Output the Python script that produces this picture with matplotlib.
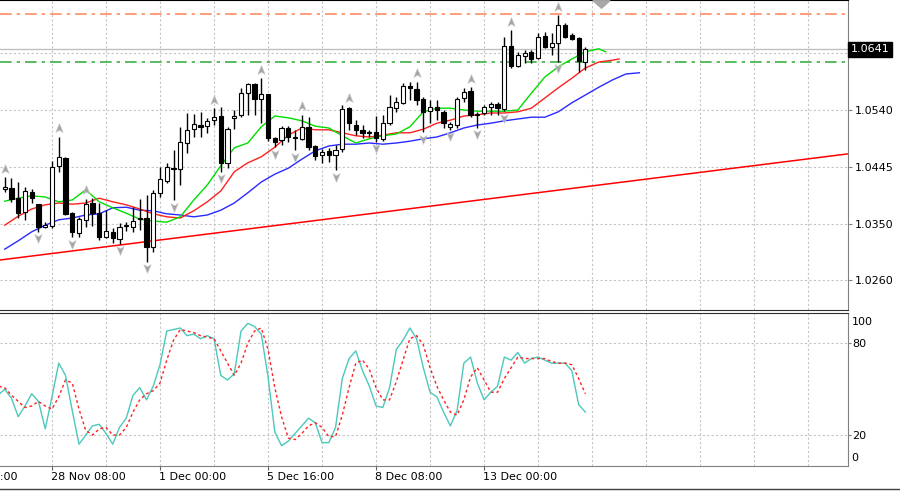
import matplotlib
matplotlib.use('Agg')
import matplotlib.pyplot as plt
import matplotlib.transforms as mtrans
from matplotlib.path import Path
from matplotlib.lines import Line2D

# H4 candles, bar 0 = first visible bar on the left
opens = [1.0408, 1.0410, 1.0393, 1.0370, 1.0403, 1.0383, 1.0345, 1.0347, 1.0447, 1.0460,
         1.0368, 1.0335, 1.0357, 1.0385, 1.0368, 1.0328, 1.0337, 1.0325, 1.0347, 1.0345,
         1.0360, 1.0360, 1.0312, 1.0402, 1.0422, 1.0443, 1.0442, 1.0485, 1.0508, 1.0515,
         1.0513, 1.0523, 1.0530, 1.0452, 1.0527, 1.0532, 1.0568, 1.0583, 1.0558, 1.0567,
         1.0493, 1.0490, 1.0510, 1.0493, 1.0492, 1.0512, 1.0480, 1.0465, 1.0472, 1.0465,
         1.0475, 1.0543, 1.0515, 1.0507, 1.0503, 1.0503, 1.0492, 1.0518, 1.0543, 1.0552,
         1.0580, 1.0575, 1.0558, 1.0538, 1.0545, 1.0537, 1.0512, 1.0515, 1.0560, 1.0572,
         1.0533, 1.0535, 1.0545, 1.0550, 1.0542, 1.0647, 1.0613, 1.0630, 1.0637, 1.0627,
         1.0663, 1.0645, 1.0652, 1.0682, 1.0665, 1.0660, 1.0620]
highs = [1.0428, 1.0427, 1.0420, 1.0412, 1.0408, 1.0384, 1.0353, 1.0455, 1.0495, 1.0461,
         1.0370, 1.0362, 1.0392, 1.0393, 1.0385, 1.0373, 1.0343, 1.0352, 1.0353, 1.0378,
         1.0392, 1.0398, 1.0407, 1.0445, 1.0452, 1.0473, 1.0512, 1.0535, 1.0533, 1.0537,
         1.0527, 1.0543, 1.0545, 1.0512, 1.0540, 1.0577, 1.0585, 1.0585, 1.0593, 1.0567,
         1.0495, 1.0513, 1.0513, 1.0507, 1.0532, 1.0528, 1.0482, 1.0475, 1.0477, 1.0482,
         1.0548, 1.0545, 1.0523, 1.0515, 1.0507, 1.0530, 1.0532, 1.0565, 1.0562, 1.0585,
         1.0587, 1.0587, 1.0562, 1.0557, 1.0557, 1.0540, 1.0520, 1.0562, 1.0577, 1.0578,
         1.0537, 1.0548, 1.0553, 1.0553, 1.0662, 1.0673, 1.0637, 1.0640, 1.0640, 1.0668,
         1.0670, 1.0668, 1.0698, 1.0685, 1.0668, 1.0662, 1.0645]
lows = [1.0403, 1.0387, 1.0360, 1.0357, 1.0385, 1.0337, 1.0343, 1.0343, 1.0437, 1.0365,
        1.0328, 1.0328, 1.0345, 1.0347, 1.0323, 1.0327, 1.0318, 1.0317, 1.0338, 1.0337,
        1.0340, 1.0287, 1.0303, 1.0395, 1.0418, 1.0390, 1.0415, 1.0468, 1.0495, 1.0495,
        1.0502, 1.0515, 1.0437, 1.0443, 1.0508, 1.0528, 1.0532, 1.0532, 1.0518, 1.0488,
        1.0478, 1.0482, 1.0487, 1.0473, 1.0490, 1.0473, 1.0457, 1.0452, 1.0453, 1.0440,
        1.0470, 1.0507, 1.0498, 1.0493, 1.0495, 1.0487, 1.0488, 1.0515, 1.0537, 1.0550,
        1.0557, 1.0548, 1.0503, 1.0518, 1.0523, 1.0510, 1.0507, 1.0510, 1.0553, 1.0528,
        1.0510, 1.0532, 1.0532, 1.0532, 1.0538, 1.0610, 1.0612, 1.0618, 1.0618, 1.0625,
        1.0643, 1.0632, 1.0620, 1.0660, 1.0657, 1.0603, 1.0607]
closes = [1.0412, 1.0392, 1.0368, 1.0405, 1.0393, 1.0345, 1.0348, 1.0445, 1.0462, 1.0367,
          1.0337, 1.0358, 1.0383, 1.0368, 1.0328, 1.0338, 1.0327, 1.0345, 1.0348, 1.0355,
          1.0358, 1.0312, 1.0402, 1.0425, 1.0445, 1.0442, 1.0487, 1.0507, 1.0517, 1.0512,
          1.0522, 1.0528, 1.0452, 1.0508, 1.0530, 1.0568, 1.0583, 1.0558, 1.0567, 1.0493,
          1.0487, 1.0510, 1.0495, 1.0495, 1.0512, 1.0478, 1.0463, 1.0470, 1.0465, 1.0473,
          1.0542, 1.0518, 1.0507, 1.0502, 1.0502, 1.0493, 1.0518, 1.0545, 1.0553, 1.0580,
          1.0577, 1.0557, 1.0537, 1.0545, 1.0540, 1.0518, 1.0517, 1.0558, 1.0570, 1.0532,
          1.0532, 1.0545, 1.0550, 1.0543, 1.0647, 1.0613, 1.0632, 1.0635, 1.0625, 1.0662,
          1.0645, 1.0652, 1.0682, 1.0662, 1.0658, 1.0622, 1.0641]

# Bill Williams fractals (bar numbers)
fractal_up = [0, 8, 12, 31, 38, 44, 51, 61, 69, 75, 82]
fractal_down = [5, 10, 17, 21, 25, 32, 40, 43, 49, 55, 62, 66, 70, 74, 82]

# Alligator lines, read every 2 bars (already shifted forward)
lips_bars = list(range(0, 89, 2)) + [89]
lips = [1.0388, 1.0393, 1.0397, 1.0395, 1.0387, 1.0390, 1.0407, 1.0387, 1.0377, 1.0368,
        1.0358, 1.0355, 1.0353, 1.0362, 1.0390, 1.0415, 1.0447, 1.0477, 1.0485, 1.0512,
        1.0530, 1.0527, 1.0522, 1.0513, 1.0510, 1.0497, 1.0485, 1.0492, 1.0497, 1.0500,
        1.0512, 1.0537, 1.0543, 1.0543, 1.0540, 1.0538, 1.0538, 1.0538, 1.0540, 1.0568,
        1.0595, 1.0612, 1.0625, 1.0637, 1.0642, 1.0637]
teeth_bars = list(range(0, 91, 2)) + [91]
teeth = [1.0348, 1.0363, 1.0375, 1.0382, 1.0385, 1.0383, 1.0385, 1.0393, 1.0387, 1.0382,
         1.0375, 1.0367, 1.0362, 1.0360, 1.0372, 1.0387, 1.0405, 1.0437, 1.0452, 1.0462,
         1.0478, 1.0498, 1.0510, 1.0507, 1.0507, 1.0502, 1.0497, 1.0495, 1.0498, 1.0502,
         1.0502, 1.0508, 1.0518, 1.0523, 1.0530, 1.0532, 1.0535, 1.0535, 1.0537, 1.0543,
         1.0560, 1.0577, 1.0593, 1.0610, 1.0620, 1.0623, 1.0625]
jaw_bars = list(range(0, 95, 2))
jaw = [1.0308, 1.0322, 1.0337, 1.0348, 1.0357, 1.0360, 1.0365, 1.0367, 1.0377, 1.0378,
       1.0373, 1.0372, 1.0367, 1.0365, 1.0362, 1.0365, 1.0373, 1.0385, 1.0402, 1.0420,
       1.0433, 1.0443, 1.0458, 1.0472, 1.0480, 1.0483, 1.0483, 1.0485, 1.0483, 1.0485,
       1.0488, 1.0492, 1.0495, 1.0502, 1.0510, 1.0515, 1.0518, 1.0522, 1.0525, 1.0528,
       1.0528, 1.0537, 1.0552, 1.0565, 1.0578, 1.0590, 1.0600, 1.0602]

# levels and trend line
current_price = 1.0641
level_top = 1.0700
level_low = 1.0620
trend_bars = [0, 120]
trend_prices = [1.0291, 1.0460]

price_ticks = [1.0635, 1.0540, 1.0445, 1.0350, 1.0257]
price_labels = ['', '1.0540', '1.0445', '1.0350', '1.0260']

# stochastic %K / %D, first value is bar -1
stoch_first_bar = -1
stoch_k = [46, 50, 44, 32, 39, 47, 42, 24, 45, 67,
           59, 36, 14, 20, 26, 27, 21, 14, 25, 31,
           46, 51, 43, 52, 66, 88, 89, 90, 85, 86,
           83, 85, 83, 59, 56, 60, 88, 93, 91, 86,
           58, 22, 13, 16, 21, 26, 31, 28, 15, 15,
           25, 57, 70, 75, 62, 52, 39, 38, 51, 76,
           82, 90, 83, 64, 48, 45, 35, 26, 36, 67,
           71, 54, 43, 48, 52, 71, 69, 74, 67, 70,
           71, 69, 67, 67, 67, 62, 40, 35]
stoch_d = [52, 51, 46, 42, 38, 39, 42, 39, 37, 45,
           56, 54, 37, 23, 20, 24, 25, 20, 20, 25,
           35, 43, 47, 49, 54, 69, 82, 89, 88, 87,
           85, 84, 83, 75, 67, 59, 67, 80, 88, 90,
           76, 51, 32, 18, 17, 21, 26, 28, 25, 19,
           19, 33, 51, 67, 69, 63, 51, 43, 43, 55,
           69, 83, 85, 79, 64, 52, 43, 35, 33, 43,
           58, 64, 56, 48, 48, 57, 64, 71, 70, 70,
           70, 70, 68, 67, 67, 66, 57, 47]
stoch_levels = [80, 20]

time_label_bars = [-9, 7, 23, 39, 55, 71]
time_labels = ['23 Nov 16:00', '28 Nov 08:00', '1 Dec 00:00', '5 Dec 16:00',
               '8 Dec 08:00', '13 Dec 00:00']

GRID = dict(color='#c4c4c4', linestyle=(0, (2, 2)), linewidth=0.8, zorder=0)
XLIM = (-0.7, 124.9)

plt.rcParams['font.family'] = ['DejaVu Sans']
fig = plt.figure(figsize=(9.0, 4.91), dpi=100)
ax = fig.add_axes([0.0, 0.36864, 0.94222, 0.63136])
ax2 = fig.add_axes([0.0, 0.05173, 0.94222, 0.3114])

# ---------- price panel ----------
for gx in range(-1, 125, 8):
    ax.axvline(gx, **GRID)
for gy in price_ticks:
    ax.axhline(gy, **GRID)

ax.axline((trend_bars[0], trend_prices[0]), (trend_bars[1], trend_prices[1]),
          color='#ff0000', lw=1.1, zorder=1)
ax.axhline(current_price, color='#c0c0c0', lw=1.0, zorder=1)
ax.axhline(level_top, color='#ff8c64', lw=1.2, linestyle=(0, (7, 3, 2, 3)), zorder=1)
ax.axhline(level_low, color='#3cb043', lw=1.2, linestyle=(0, (7, 3, 2, 3)), zorder=1)

ax.plot(jaw_bars, jaw, color='#2a2aff', lw=1.0, zorder=2)
ax.plot(teeth_bars, teeth, color='#ff2020', lw=1.0, zorder=2)
ax.plot(lips_bars, lips, color='#00dd00', lw=1.0, zorder=2)

bars = list(range(len(opens)))
ax.vlines(bars, lows, highs, color='black', lw=1.0, zorder=3)
bottoms = [min(o, c) for o, c in zip(opens, closes)]
heights = [abs(c - o) for o, c in zip(opens, closes)]
faces = ['white' if c >= o else 'black' for o, c in zip(opens, closes)]
ax.bar(bars, heights, bottom=bottoms, width=0.62, color=faces,
       edgecolor='black', linewidth=0.8, zorder=4)

# fractal arrows
arrow_up = Path([(0, 1), (0.75, -0.8), (0, -0.35), (-0.75, -0.8), (0, 1)],
                [Path.MOVETO, Path.LINETO, Path.LINETO, Path.LINETO, Path.CLOSEPOLY])
arrow_dn = Path([(0, -1), (0.75, 0.8), (0, 0.35), (-0.75, 0.8), (0, -1)],
                [Path.MOVETO, Path.LINETO, Path.LINETO, Path.LINETO, Path.CLOSEPOLY])
up_tr = mtrans.offset_copy(ax.transData, fig=fig, y=8.5, units='dots')
dn_tr = mtrans.offset_copy(ax.transData, fig=fig, y=-6.5, units='dots')
ax.plot(fractal_up, [highs[i] for i in fractal_up], linestyle='none', marker=arrow_up,
        ms=7, mfc='#a4a4a4', mec='#c8c8c8', mew=0.5, transform=up_tr, zorder=5)
ax.plot(fractal_down, [lows[i] for i in fractal_down], linestyle='none', marker=arrow_dn,
        ms=7, mfc='#a4a4a4', mec='#c8c8c8', mew=0.5, transform=dn_tr, zorder=5)

# chart shift marker at the top
shift_mark = Path([(-1, 0.45), (1, 0.45), (0, -0.45), (-1, 0.45)],
                  [Path.MOVETO, Path.LINETO, Path.LINETO, Path.CLOSEPOLY])
top_tr = mtrans.offset_copy(mtrans.blended_transform_factory(ax.transData, ax.transAxes),
                            fig=fig, y=-3.5, units='dots')
ax.plot([88.3], [1.0], marker=shift_mark, ms=12, color='#a8a8a8', transform=top_tr,
        clip_on=False, zorder=6)

ax.set_xlim(*XLIM)
ax.set_ylim(1.02067, 1.07233)
ax.set_xticks([])
ax.yaxis.tick_right()
ax.set_yticks(price_ticks)
ax.set_yticklabels(price_labels)
ax.tick_params(axis='y', length=3, width=0.8, color='#808080', labelsize=8, pad=2)
ax.spines['left'].set_visible(False)
ax.spines['top'].set_color('black')
ax.spines['bottom'].set_color('#303030')
ax.spines['right'].set_color('#808080')

ax.text(1.003, current_price, '1.0641', transform=mtrans.blended_transform_factory(
    ax.transAxes, ax.transData), ha='left', va='center', fontsize=8, color='white',
    bbox=dict(boxstyle='square,pad=0.25', fc='black', ec='black'), clip_on=False)

# ---------- stochastic panel ----------
for gx in range(-1, 125, 8):
    ax2.axvline(gx, **GRID)
for gy in stoch_levels:
    ax2.axhline(gy, **GRID)

stoch_bars = list(range(stoch_first_bar, stoch_first_bar + len(stoch_k)))
ax2.plot(stoch_bars, stoch_k, color='#4cc8bc', lw=1.0, zorder=2)
ax2.plot(stoch_bars, stoch_d, color='#ff2020', lw=1.0, linestyle=(0, (2, 2)), zorder=3)

ax2.set_xlim(*XLIM)
ax2.set_ylim(0, 100)
ax2.yaxis.tick_right()
ax2.set_yticks(stoch_levels)
ax2.set_yticklabels([str(t) for t in stoch_levels])
ax2.tick_params(axis='y', length=2, width=0.8, color='#808080', labelsize=8, pad=1)
# MT4 pulls the 100 and 0 labels inside the window
edge_tr = mtrans.blended_transform_factory(ax2.transAxes, ax2.transData)
ax2.text(1.004, 100, '100', transform=mtrans.offset_copy(edge_tr, fig=fig, y=-9, units='dots'),
         ha='left', va='center', fontsize=8, clip_on=False)
ax2.text(1.004, 0, '0', transform=mtrans.offset_copy(edge_tr, fig=fig, y=8, units='dots'),
         ha='left', va='center', fontsize=8, clip_on=False)

ax2.set_xticks(time_label_bars[1:])
ax2.set_xticklabels([])
ax2.tick_params(axis='x', length=3, width=0.8, color='#606060')
ax2.spines['left'].set_visible(False)
ax2.spines['top'].set_color('#303030')
ax2.spines['bottom'].set_color('#808080')
ax2.spines['right'].set_color('#808080')

lab_tr = mtrans.blended_transform_factory(ax2.transData, ax2.transAxes)
for b, t in zip(time_label_bars, time_labels):
    ax2.text(b - 0.1, -0.075, t, transform=lab_tr, ha='left', va='center',
             fontsize=8, color='black', clip_on=False)

# window frame at the bottom
fig.add_artist(Line2D([0, 1], [0.004, 0.004], transform=fig.transFigure,
                      color='#404040', lw=1.0))

fig.savefig('out.png', dpi=100)
